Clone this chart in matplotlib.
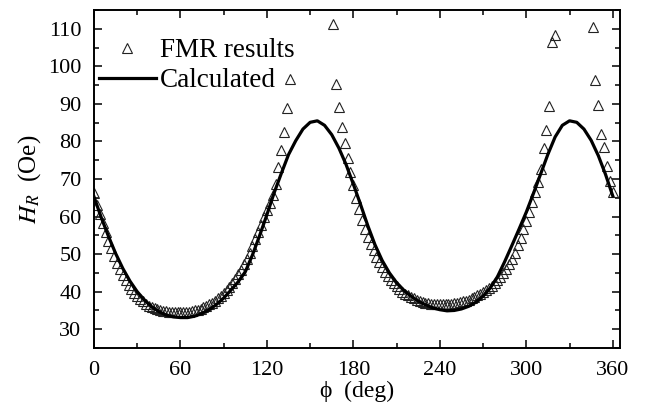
import matplotlib
matplotlib.use("Agg")
import matplotlib.pyplot as plt
from matplotlib.ticker import MultipleLocator

plt.rcParams['font.family'] = ['Liberation Serif', 'DejaVu Serif']
plt.rcParams['mathtext.fontset'] = 'stix'

# calculated curve, read every 5 deg
phi_calc = list(range(0, 361, 5))
h_calc = [65.3, 59.8, 54.8, 50.2, 46.2, 42.8, 40.0, 37.8, 36.0, 34.7,
          33.8, 33.3, 33.1, 33.1, 33.5, 34.2, 35.2, 36.6, 38.3, 40.4,
          42.6, 45.3, 49.8, 55.0, 60.5, 66.3, 71.5, 76.5, 80.2, 83.3,
          85.1, 85.5, 84.3, 81.8, 78.2, 73.8, 68.6, 63.2, 57.6, 52.5,
          48.3, 45.0, 42.4, 40.4, 38.8, 37.5, 36.5, 35.7, 35.2, 34.9,
          35.0, 35.4, 36.1, 37.2, 38.8, 41.0, 44.0, 48.0, 52.3, 56.7,
          61.2, 66.2, 71.4, 76.6, 81.2, 84.3, 85.5, 85.1, 83.3, 80.3,
          76.2, 71.2, 65.5]

# FMR results, three runs of points (no resonance near the hard axes)
phi_fmr_a = list(range(0, 137, 2))
h_fmr_a = [66.4, 63.0, 60.6, 58.2, 55.9, 53.6, 51.5, 49.5, 47.7, 46.0,
           44.4, 43.0, 41.7, 40.6, 39.6, 38.8, 38.0, 37.4, 36.8, 36.3,
           35.9, 35.6, 35.3, 35.1, 34.9, 34.8, 34.7, 34.6, 34.5, 34.5,
           34.5, 34.5, 34.6, 34.7, 34.8, 35.0, 35.2, 35.5, 35.8, 36.2,
           36.6, 37.1, 37.6, 38.2, 38.9, 39.6, 40.4, 41.3, 42.3, 43.4,
           44.6, 45.9, 47.3, 48.8, 50.4, 52.1, 53.9, 55.8, 57.8, 59.8,
           61.8, 63.7, 65.7, 68.6, 73.2, 77.8, 82.5, 88.8, 96.7]

phi_fmr_b = list(range(166, 321, 2))
h_fmr_b = [111.3, 95.3, 89.1, 83.8, 79.6, 75.6, 71.8, 68.3, 65.0, 62.0,
           59.2, 56.8, 54.6, 52.8, 51.0, 49.3, 47.8, 46.5, 45.2, 44.1,
           43.1, 42.2, 41.4, 40.7, 40.0, 39.5, 39.0, 38.6, 38.2, 37.9,
           37.6, 37.3, 37.1, 36.9, 36.8, 36.7, 36.6, 36.6, 36.6, 36.6,
           36.7, 36.8, 36.9, 37.0, 37.2, 37.4, 37.6, 37.9, 38.2, 38.6,
           39.0, 39.4, 39.9, 40.4, 41.0, 41.6, 42.3, 43.1, 44.0, 45.0,
           46.1, 47.4, 48.8, 50.4, 52.3, 54.4, 56.6, 58.8, 61.3, 63.8,
           66.5, 69.3, 72.7, 78.2, 83.0, 89.4, 106.6, 108.4]

phi_fmr_c = list(range(346, 361, 2))
h_fmr_c = [110.5, 96.5, 89.8, 82.1, 78.5, 73.4, 69.5, 66.6]

phi_fmr = phi_fmr_a + phi_fmr_b + phi_fmr_c
h_fmr = h_fmr_a + h_fmr_b + h_fmr_c

fig = plt.figure(figsize=(6.45, 4.2), dpi=100)
ax = fig.add_axes([0.1457, 0.1714, 0.8155, 0.8047])

ax.plot(phi_fmr, h_fmr, linestyle='none', marker='^', markersize=6.5,
        markerfacecolor='none', markeredgecolor='#222222', markeredgewidth=0.8,
        label='FMR results')
ax.plot(phi_calc, h_calc, color='black', linewidth=2.3, label='Calculated')

ax.set_xlim(0, 365)
ax.set_ylim(25, 115)
ax.xaxis.set_major_locator(MultipleLocator(60))
ax.xaxis.set_minor_locator(MultipleLocator(30))
ax.yaxis.set_major_locator(MultipleLocator(10))
ax.yaxis.set_minor_locator(MultipleLocator(5))
ax.set_yticks(range(30, 111, 10))

ax.tick_params(which='both', direction='in', top=True, right=True,
               labelsize=16, width=1.1)
ax.tick_params(axis='x', pad=9)
ax.tick_params(axis='y', pad=9)
ax.tick_params(which='major', length=6)
ax.tick_params(which='minor', length=3.5)
for s in ax.spines.values():
    s.set_linewidth(1.4)

ax.set_xlabel('\u03d5  (deg)', fontsize=17, labelpad=1)
ax.set_ylabel(r'$H_R$  (Oe)', fontsize=18, labelpad=4)

ax.legend(loc='upper left', bbox_to_anchor=(-0.022, 0.965), frameon=False,
          fontsize=19.5, handlelength=2.1, handletextpad=0.15, labelspacing=0.18,
          borderaxespad=0.2)

fig.savefig('out.png', dpi=100)
